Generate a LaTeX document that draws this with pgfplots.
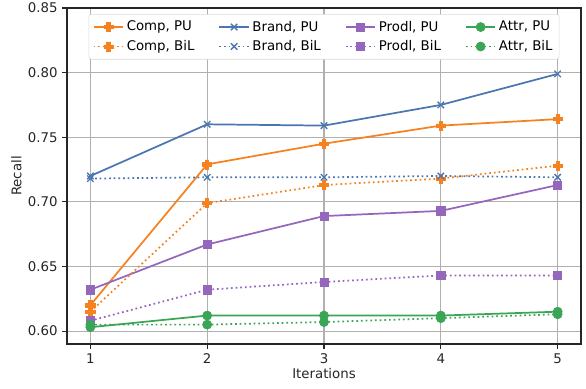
\documentclass[border=0pt]{standalone}
\usepackage{pgfplots}
\pgfplotsset{compat=1.18}
\usepackage{fontspec}
\setmainfont{DejaVu Sans}
\definecolor{corange}{HTML}{F5821F}
\definecolor{cblue}{HTML}{4C76B0}
\definecolor{cpurple}{HTML}{9467BD}
\definecolor{cgreen}{HTML}{3AA655}
\definecolor{cgrid}{HTML}{B0B0B0}
\pgfdeclareplotmark{fplus}{%
  \pgfpathmoveto{\pgfqpoint{-0.36\pgfplotmarksize}{\pgfplotmarksize}}%
  \pgfpathlineto{\pgfqpoint{0.36\pgfplotmarksize}{\pgfplotmarksize}}%
  \pgfpathlineto{\pgfqpoint{0.36\pgfplotmarksize}{0.36\pgfplotmarksize}}%
  \pgfpathlineto{\pgfqpoint{\pgfplotmarksize}{0.36\pgfplotmarksize}}%
  \pgfpathlineto{\pgfqpoint{\pgfplotmarksize}{-0.36\pgfplotmarksize}}%
  \pgfpathlineto{\pgfqpoint{0.36\pgfplotmarksize}{-0.36\pgfplotmarksize}}%
  \pgfpathlineto{\pgfqpoint{0.36\pgfplotmarksize}{-\pgfplotmarksize}}%
  \pgfpathlineto{\pgfqpoint{-0.36\pgfplotmarksize}{-\pgfplotmarksize}}%
  \pgfpathlineto{\pgfqpoint{-0.36\pgfplotmarksize}{-0.36\pgfplotmarksize}}%
  \pgfpathlineto{\pgfqpoint{-\pgfplotmarksize}{-0.36\pgfplotmarksize}}%
  \pgfpathlineto{\pgfqpoint{-\pgfplotmarksize}{0.36\pgfplotmarksize}}%
  \pgfpathlineto{\pgfqpoint{-0.36\pgfplotmarksize}{0.36\pgfplotmarksize}}%
  \pgfpathclose\pgfusepathqfillstroke}
\begin{document}
\begin{tikzpicture}
  \begin{axis}[
    scale only axis,
    width=385.5pt, height=252pt,
    xmin=0.8, xmax=5.2,
    ymin=0.59, ymax=0.85,
    xtick={1,2,3,4,5},
    ytick={0.60,0.65,0.70,0.75,0.80,0.85},
    yticklabel style={/pgf/number format/.cd,fixed,fixed zerofill,precision=2},
    /pgf/number format/assume math mode=true,
    tick label style={font=\fontsize{10}{12}\selectfont, text=black!85},
    label style={font=\fontsize{10}{12}\selectfont, text=black!85},
    xlabel={Iterations}, ylabel={Recall},
    xlabel style={yshift=3pt},
    ylabel style={yshift=-2pt},
    grid=major,
    major grid style={cgrid, line width=0.8pt},
    tick align=outside,
    tick pos=left,
    major tick length=3.5pt,
    axis line style={black!85, line width=0.8pt},
    every tick/.style={black!85, line width=0.8pt},
    legend columns=4,
    legend style={at={(0.5,0.982)}, anchor=north, draw=black!15, rounded corners=2pt,
      font=\fontsize{10}{12}\selectfont, inner sep=3pt, row sep=1.5pt,
      /tikz/every even column/.append style={column sep=16pt}},
    legend cell align=left,
    legend image code/.code={%
      \draw[mark repeat=2,mark phase=2,#1] plot coordinates {(0cm,0cm)(0.39cm,0cm)(0.78cm,0cm)};},
    every axis plot/.append style={line width=1.3pt, mark size=3.4pt},
  ]
    % PU (row 1 of legend)
    \addplot[corange, mark=fplus, mark options={solid, line width=0.5pt}] coordinates {
      (1,0.620) (2,0.729) (3,0.745) (4,0.759) (5,0.764)};
    \addlegendentry{Comp, PU}
    \addplot[cblue, mark=x, mark options={solid, line width=1pt}] coordinates {
      (1,0.720) (2,0.760) (3,0.759) (4,0.775) (5,0.799)};
    \addlegendentry{Brand, PU}
    \addplot[cpurple, mark=square*, mark options={solid, line width=0.5pt}, mark size=3.1pt] coordinates {
      (1,0.632) (2,0.667) (3,0.689) (4,0.693) (5,0.713)};
    \addlegendentry{Prodl, PU}
    \addplot[cgreen, mark=*, mark options={solid, line width=0.5pt}] coordinates {
      (1,0.603) (2,0.612) (3,0.612) (4,0.612) (5,0.615)};
    \addlegendentry{Attr, PU}
    % BiL (row 2 of legend)
    \addplot[corange, dash pattern=on 1.3pt off 2.2pt, mark=fplus, mark options={solid, line width=0.5pt}] coordinates {
      (1,0.615) (2,0.699) (3,0.713) (4,0.718) (5,0.728)};
    \addlegendentry{Comp, BiL}
    \addplot[cblue, dash pattern=on 1.3pt off 2.2pt, mark=x, mark options={solid, line width=1pt}] coordinates {
      (1,0.718) (2,0.719) (3,0.719) (4,0.720) (5,0.719)};
    \addlegendentry{Brand, BiL}
    \addplot[cpurple, dash pattern=on 1.3pt off 2.2pt, mark=square*, mark options={solid, line width=0.5pt}, mark size=3.1pt] coordinates {
      (1,0.608) (2,0.632) (3,0.638) (4,0.643) (5,0.643)};
    \addlegendentry{Prodl, BiL}
    \addplot[cgreen, dash pattern=on 1.3pt off 2.2pt, mark=*, mark options={solid, line width=0.5pt}] coordinates {
      (1,0.605) (2,0.605) (3,0.607) (4,0.610) (5,0.613)};
    \addlegendentry{Attr, BiL}
  \end{axis}
  \pgfresetboundingbox
  \path ([shift={(-50.25pt,-33pt)}]current axis.south west) rectangle ([shift={(3.75pt,6pt)}]current axis.north east);
\end{tikzpicture}
\end{document}
